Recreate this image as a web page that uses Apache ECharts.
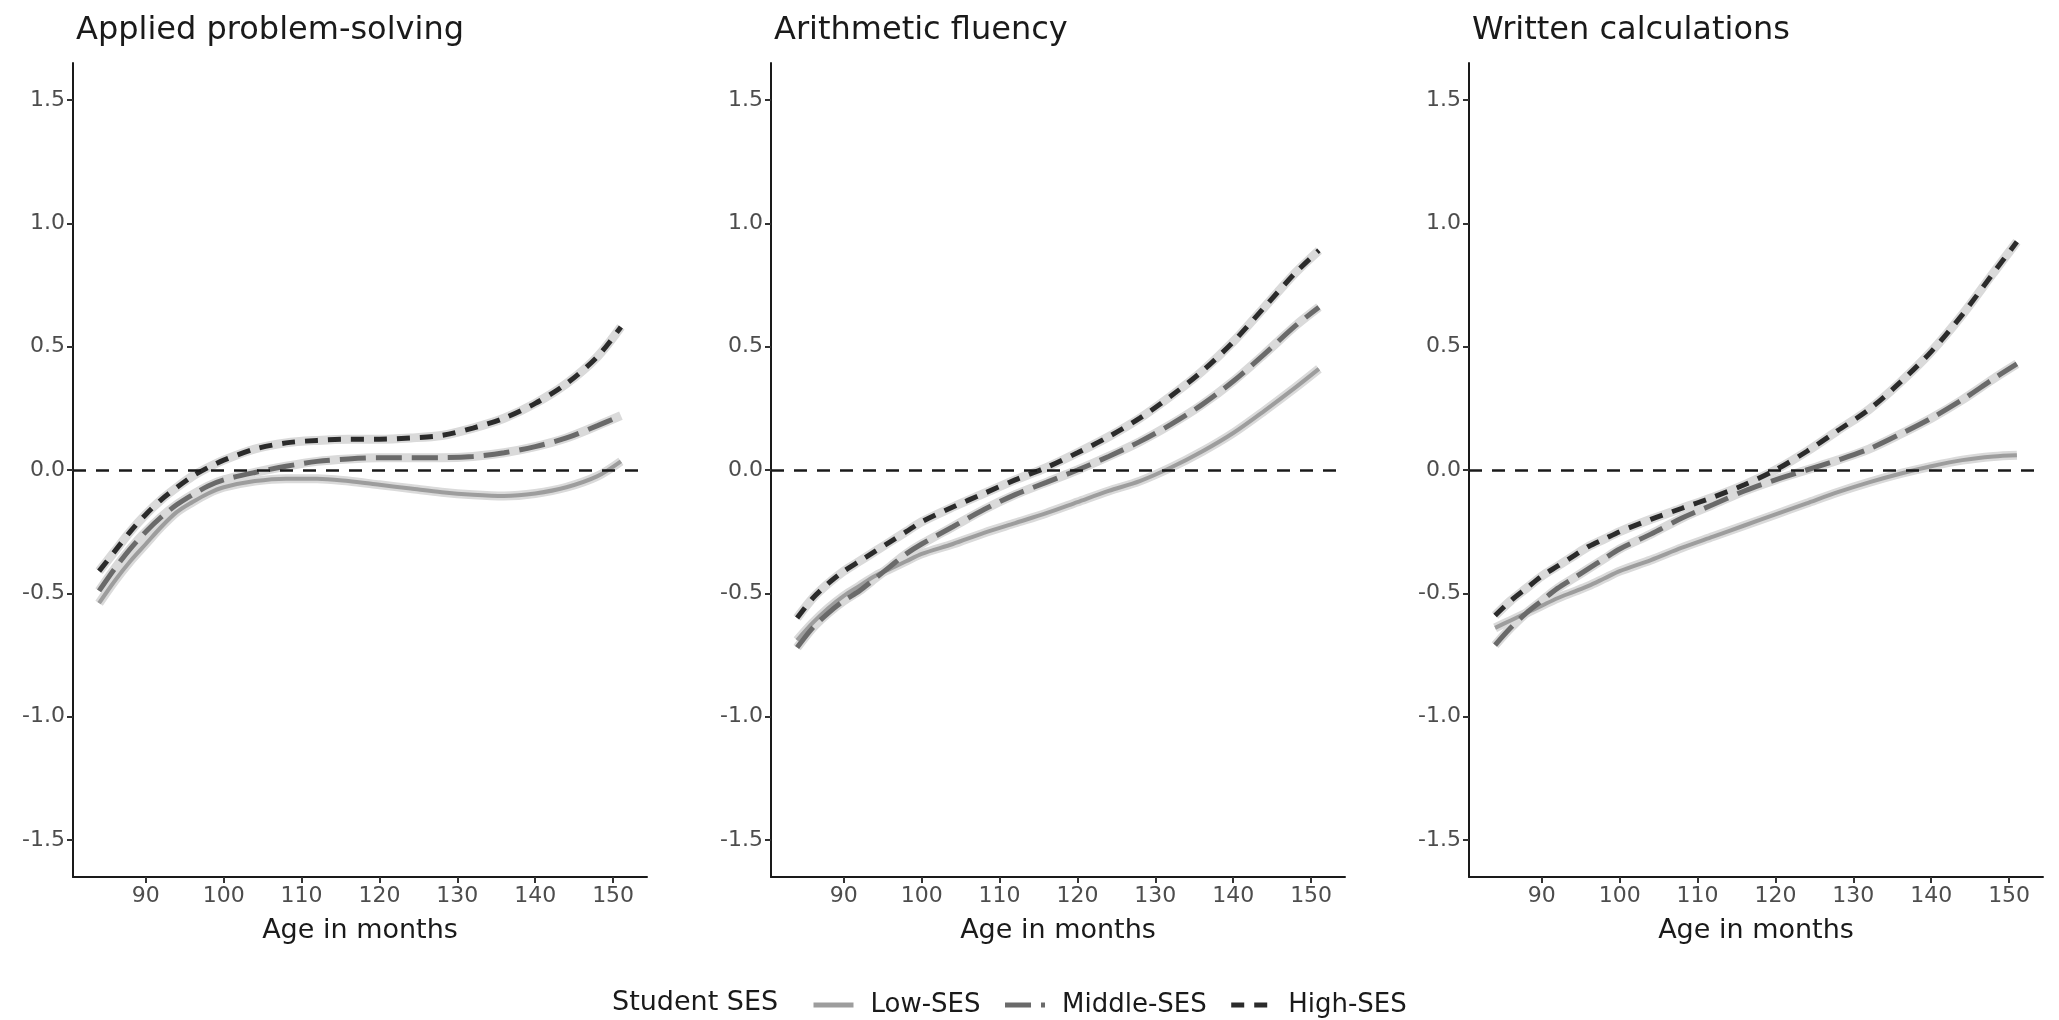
<!DOCTYPE html>
<html>
<head>
<meta charset="utf-8">
<title>Math achievement by SES</title>
<script src="https://cdn.jsdelivr.net/npm/echarts@6/dist/echarts.min.js"></script>
<style>
  html, body { margin: 0; padding: 0; background: #fff; }
  #chart { width: 2059px; height: 1020px; }
</style>
</head>
<body>
<div id="chart"></div>
<script>
// ages (months) at which the curves were read
const ages = [84, 86, 88, 90, 92, 94, 96, 98, 100, 104, 108, 112, 116, 120, 124, 128, 132, 136, 140, 144, 148, 151]

// Applied problem-solving
const appliedLow  = [-0.54, -0.45, -0.37, -0.30, -0.23, -0.17, -0.13, -0.095, -0.07, -0.045, -0.035, -0.035, -0.045, -0.06, -0.075, -0.09, -0.10, -0.105, -0.095, -0.07, -0.025, 0.035]
const appliedMid  = [-0.49, -0.40, -0.32, -0.25, -0.19, -0.14, -0.10, -0.065, -0.04, -0.01, 0.015, 0.035, 0.045, 0.05, 0.05, 0.05, 0.055, 0.07, 0.095, 0.13, 0.18, 0.22]
const appliedHigh = [-0.41, -0.33, -0.25, -0.18, -0.12, -0.07, -0.025, 0.01, 0.04, 0.085, 0.11, 0.12, 0.125, 0.125, 0.13, 0.14, 0.17, 0.21, 0.27, 0.35, 0.46, 0.58]

// Arithmetic fluency
const fluencyLow  = [-0.69, -0.62, -0.56, -0.51, -0.47, -0.43, -0.40, -0.37, -0.34, -0.30, -0.255, -0.215, -0.175, -0.13, -0.085, -0.045, 0.01, 0.075, 0.15, 0.24, 0.335, 0.41]
const fluencyMid  = [-0.72, -0.64, -0.58, -0.53, -0.49, -0.44, -0.39, -0.34, -0.30, -0.23, -0.16, -0.10, -0.05, 0.00, 0.055, 0.115, 0.185, 0.265, 0.36, 0.47, 0.585, 0.66]
const fluencyHigh = [-0.60, -0.52, -0.46, -0.41, -0.37, -0.33, -0.29, -0.25, -0.21, -0.15, -0.095, -0.04, 0.01, 0.07, 0.135, 0.21, 0.30, 0.40, 0.52, 0.66, 0.80, 0.89]

// Written calculations
const writtenLow  = [-0.64, -0.61, -0.58, -0.55, -0.52, -0.495, -0.47, -0.44, -0.41, -0.365, -0.315, -0.27, -0.225, -0.18, -0.135, -0.09, -0.05, -0.015, 0.015, 0.04, 0.055, 0.06]
const writtenMid  = [-0.71, -0.64, -0.58, -0.53, -0.48, -0.44, -0.40, -0.36, -0.32, -0.26, -0.195, -0.14, -0.085, -0.04, 0.00, 0.04, 0.085, 0.145, 0.21, 0.285, 0.37, 0.43]
const writtenHigh = [-0.59, -0.53, -0.48, -0.43, -0.39, -0.35, -0.31, -0.28, -0.25, -0.20, -0.155, -0.11, -0.06, 0.00, 0.075, 0.16, 0.245, 0.355, 0.48, 0.63, 0.80, 0.925]

const panelTitles = ['Applied problem-solving', 'Arithmetic fluency', 'Written calculations']
const groupNames = ['Low-SES', 'Middle-SES', 'High-SES']
const xTicks = [90, 100, 110, 120, 130, 140, 150]
const yTicks = [-1.5, -1.0, -0.5, 0.0, 0.5, 1.0, 1.5]

const panels = [
  [appliedLow, appliedMid, appliedHigh],
  [fluencyLow, fluencyMid, fluencyHigh],
  [writtenLow, writtenMid, writtenHigh]
]

// layout of the three panels
const gridLefts = [73, 771, 1469]
const gridWidth = 574
const font = 'DejaVu Sans'

// line look per group
const looks = [
  {color: '#9d9d9d', width: 4, type: 'solid'},
  {color: '#6a6a6a', width: 5, type: [26, 10]},
  {color: '#2b2b2b', width: 5, type: [13, 10]}
]

const chart = echarts.init(document.getElementById('chart'))

let grids = []
let xAxes = []
let yAxes = []
let titles = []
let series = []

for (let p = 0; p < 3; p++) {
  grids.push({left: gridLefts[p], width: gridWidth, top: 63, height: 814})
  titles.push({
    text: panelTitles[p],
    left: gridLefts[p] - 2,
    top: 10,
    textStyle: {fontFamily: font, fontSize: 32, fontWeight: 'normal', color: '#1a1a1a'}
  })
  xAxes.push({
    type: 'value',
    gridIndex: p,
    min: 80.65,
    max: 154.35,
    name: 'Age in months',
    nameLocation: 'middle',
    nameGap: 40,
    nameTextStyle: {fontFamily: font, fontSize: 27, color: '#1a1a1a'},
    splitLine: {show: false},
    axisLine: {onZero: false, lineStyle: {color: '#1a1a1a', width: 2}},
    axisTick: {customValues: xTicks, length: 6, lineStyle: {color: '#333', width: 2}},
    axisLabel: {customValues: xTicks, margin: 8, fontFamily: font, fontSize: 22, color: '#4d4d4d'}
  })
  yAxes.push({
    type: 'value',
    gridIndex: p,
    min: -1.65,
    max: 1.65,
    splitLine: {show: false},
    axisLine: {show: true, onZero: false, lineStyle: {color: '#1a1a1a', width: 2}},
    axisTick: {show: true, customValues: yTicks, length: 6, lineStyle: {color: '#333', width: 2}},
    axisLabel: {
      customValues: yTicks,
      margin: 8,
      fontFamily: font,
      fontSize: 22,
      color: '#4d4d4d',
      formatter: v => v.toFixed(1)
    }
  })

  for (let g = 0; g < 3; g++) {
    let pts = ages.map((a, i) => [a, panels[p][g][i]])
    // pale halo under each curve
    let halo = {
      type: 'line',
      xAxisIndex: p,
      yAxisIndex: p,
      data: pts,
      smooth: 0.3,
      symbol: 'none',
      silent: true,
      z: 2,
      lineStyle: {color: '#dadada', width: 9}
    }
    if (g === 0) {
      halo.markLine = {
        silent: true,
        symbol: 'none',
        label: {show: false},
        lineStyle: {color: '#1a1a1a', width: 2.5, type: [13, 10]},
        data: [{yAxis: 0}],
        z: 6
      }
    }
    series.push(halo)
    series.push({
      name: groupNames[g],
      type: 'line',
      xAxisIndex: p,
      yAxisIndex: p,
      data: pts,
      smooth: 0.3,
      symbol: 'none',
      z: 3 + g,
      lineStyle: {color: looks[g].color, width: looks[g].width, type: looks[g].type},
      itemStyle: {color: looks[g].color}
    })
  }
}

const option = {
  backgroundColor: '#fff',
  animation: false,
  title: titles,
  grid: grids,
  xAxis: xAxes,
  yAxis: yAxes,
  legend: {
    data: groupNames.map((n, g) => ({
      name: n,
      itemStyle: {opacity: 0},
      lineStyle: {color: looks[g].color, width: 5, type: looks[g].type}
    })),
    left: 806,
    top: 987,
    itemWidth: 40,
    itemHeight: 16,
    itemGap: 22,
    itemStyle: {opacity: 0},
    textStyle: {fontFamily: font, fontSize: 26, color: '#1a1a1a', padding: [0, 0, 0, 12]}
  },
  graphic: [{
    type: 'text',
    x: 612,
    y: 1003,
    style: {text: 'Student SES', font: '27px "DejaVu Sans"', fill: '#1a1a1a', verticalAlign: 'middle'}
  }],
  series: series
}

chart.setOption(option)
</script>
</body>
</html>
